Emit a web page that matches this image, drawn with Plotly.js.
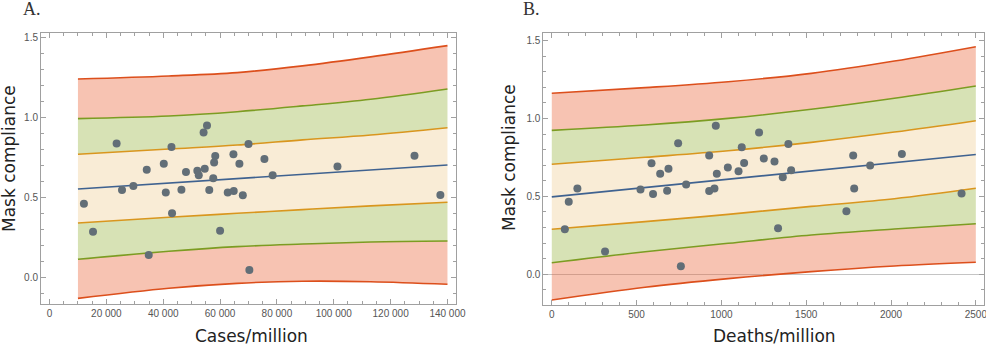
<!DOCTYPE html>
<html>
<head>
<meta charset="utf-8">
<script src="https://cdn.plot.ly/plotly-3.0.1.min.js"></script>
<style>html,body{margin:0;padding:0;background:#fff;}#chart{width:986px;height:348px;}</style>
</head>
<body>
<div id="chart"></div>
<script>
// ---------- Panel A: cases per million ----------
const casesX = [12100, 15300, 23600, 25500, 29500, 34200, 34900, 40200, 40900, 42900, 43100, 46400, 48000, 52000, 52500, 54200, 54600, 55400, 56200, 57600, 57900, 58300, 60000, 62700, 64700, 64800, 66800, 68000, 70000, 70300, 75600, 78500, 101300, 128400, 137500];
const casesY = [0.462, 0.287, 0.838, 0.547, 0.572, 0.674, 0.141, 0.711, 0.532, 0.815, 0.403, 0.549, 0.659, 0.667, 0.640, 0.906, 0.680, 0.950, 0.547, 0.620, 0.719, 0.759, 0.293, 0.532, 0.771, 0.541, 0.711, 0.514, 0.834, 0.048, 0.740, 0.640, 0.694, 0.761, 0.516];

const bandAX = [10000, 42000, 66000, 89000, 113000, 140000];
const aFitX = [10000, 140000];
const aFit = [0.554, 0.703];
const aUpRed = [1.240, 1.259, 1.280, 1.322, 1.378, 1.448];
const aUpGreen = [0.993, 1.009, 1.036, 1.072, 1.114, 1.178];
const aUpOrange = [0.770, 0.803, 0.828, 0.860, 0.891, 0.936];
const aLoOrange = [0.341, 0.377, 0.402, 0.425, 0.448, 0.471];
const aLoGreen = [0.115, 0.165, 0.194, 0.210, 0.223, 0.229];
const aLoRed = [-0.129, -0.066, -0.035, -0.022, -0.025, -0.041];

// ---------- Panel B: deaths per million ----------
const deathsX = [77, 100, 151, 314, 523, 588, 597, 639, 680, 688, 745, 761, 792, 928, 928, 959, 967, 973, 1038, 1101, 1120, 1134, 1222, 1250, 1313, 1334, 1362, 1395, 1411, 1737, 1777, 1783, 1877, 2064, 2416];
const deathsY = [0.289, 0.465, 0.550, 0.146, 0.544, 0.713, 0.516, 0.645, 0.537, 0.677, 0.842, 0.051, 0.576, 0.762, 0.535, 0.550, 0.953, 0.645, 0.685, 0.662, 0.816, 0.715, 0.910, 0.743, 0.724, 0.296, 0.623, 0.837, 0.668, 0.405, 0.762, 0.550, 0.698, 0.773, 0.518];

const bandBX = [0, 550, 1040, 1530, 2020, 2500];
const bFitX = [0, 2500];
const bFit = [0.497, 0.769];
const bUpRed = [1.162, 1.198, 1.236, 1.290, 1.369, 1.461];
const bUpGreen = [0.924, 0.958, 1.001, 1.059, 1.130, 1.209];
const bUpOrange = [0.706, 0.751, 0.793, 0.847, 0.913, 0.986];
const bLoOrange = [0.289, 0.338, 0.385, 0.436, 0.485, 0.552];
const bLoGreen = [0.074, 0.145, 0.199, 0.252, 0.291, 0.325];
const bLoRed = [-0.165, -0.083, -0.028, 0.017, 0.053, 0.077];

const RED = '#dc4f1c', GREEN = '#7c9c22', ORANGE = '#d9961e', BLUE = '#3f6290', DOT = '#626e77';
const RED_F = 'rgba(235,98,53,0.38)', GREEN_F = 'rgba(143,176,50,0.36)', ORANGE_F = 'rgba(225,156,36,0.19)';

function bandTraces(xs, lr, lg, lo, uo, ug, ur, fx, fy, px, py, xa, ya) {
  const L = (c) => ({color: c, width: 1.6, shape: 'spline', smoothing: 1});
  const base = {x: xs, mode: 'lines', xaxis: xa, yaxis: ya, hoverinfo: 'skip', showlegend: false};
  return [
    Object.assign({}, base, {y: lr, line: L(RED)}),
    Object.assign({}, base, {y: lg, line: L(GREEN), fill: 'tonexty', fillcolor: RED_F}),
    Object.assign({}, base, {y: lo, line: L(ORANGE), fill: 'tonexty', fillcolor: GREEN_F}),
    Object.assign({}, base, {y: uo, line: L(ORANGE), fill: 'tonexty', fillcolor: ORANGE_F}),
    Object.assign({}, base, {y: ug, line: L(GREEN), fill: 'tonexty', fillcolor: GREEN_F}),
    Object.assign({}, base, {y: ur, line: L(RED), fill: 'tonexty', fillcolor: RED_F}),
    {x: fx, y: fy, mode: 'lines', line: {color: BLUE, width: 1.6}, xaxis: xa, yaxis: ya, showlegend: false},
    {x: px, y: py, mode: 'markers', marker: {color: DOT, size: 8}, xaxis: xa, yaxis: ya, showlegend: false}
  ];
}

const data = [].concat(
  bandTraces(bandAX, aLoRed, aLoGreen, aLoOrange, aUpOrange, aUpGreen, aUpRed, aFitX, aFit, casesX, casesY, 'x', 'y'),
  bandTraces(bandBX, bLoRed, bLoGreen, bLoOrange, bUpOrange, bUpGreen, bUpRed, bFitX, bFit, deathsX, deathsY, 'x2', 'y2')
);

const tickFont = {family: 'Liberation Sans, Arial, sans-serif', size: 10, color: '#555'};
function axis(extra) {
  return Object.assign({
    showgrid: false, zeroline: false, showline: true, linecolor: '#a0a0a0', linewidth: 1,
    mirror: 'allticks', ticks: 'inside', ticklen: 5, tickcolor: '#a0a0a0', tickwidth: 1,
    tickfont: tickFont, fixedrange: true, ticklabeloverflow: 'allow'
  }, extra);
}

const layout = {
  width: 986, height: 348,
  margin: {l: 0, r: 0, t: 0, b: 0},
  paper_bgcolor: '#fff', plot_bgcolor: '#fff',
  separators: '. ',
  showlegend: false,
  xaxis: axis({domain: [41/986, 456/986], range: [-3000, 143000], dtick: 20000, tick0: 0, tickformat: ',d',
    minor: {ticks: 'inside', ticklen: 3, dtick: 5000, tickcolor: '#a0a0a0'}, anchor: 'y'}),
  yaxis: axis({domain: [1 - 304/348, 1 - 33/348], range: [-0.164, 1.527], dtick: 0.5, tick0: 0, tickformat: '.1f',
    minor: {ticks: 'inside', ticklen: 3, dtick: 0.1, tickcolor: '#a0a0a0'}, anchor: 'x'}),
  xaxis2: axis({domain: [543.3/986, 984.3/986], range: [-50, 2550], dtick: 500, tick0: 0, tickformat: 'd',
    minor: {ticks: 'inside', ticklen: 3, dtick: 100, tickcolor: '#a0a0a0'}, anchor: 'y2'}),
  yaxis2: axis({domain: [1 - 305/348, 1 - 33.3/348], range: [-0.197, 1.547], dtick: 0.5, tick0: 0, tickformat: '.1f',
    minor: {ticks: 'inside', ticklen: 3, dtick: 0.1, tickcolor: '#a0a0a0'}, anchor: 'x2',
    zeroline: true, zerolinecolor: '#c4c4c4', zerolinewidth: 1}),
  annotations: [
    {text: 'A.', xref: 'paper', yref: 'paper', x: 21/986, y: 1 - 9/348, xanchor: 'left', yanchor: 'middle', showarrow: false,
      font: {family: 'Liberation Serif, DejaVu Serif, serif', size: 18, color: '#333'}},
    {text: 'B.', xref: 'paper', yref: 'paper', x: 521/986, y: 1 - 9/348, xanchor: 'left', yanchor: 'middle', showarrow: false,
      font: {family: 'Liberation Serif, DejaVu Serif, serif', size: 18, color: '#333'}},
    {text: 'Mask compliance', xref: 'paper', yref: 'paper', x: 9/986, y: 1 - 159/348, textangle: -90, xanchor: 'center', yanchor: 'middle', showarrow: false,
      font: {family: 'DejaVu Sans, sans-serif', size: 17, color: '#222'}},
    {text: 'Mask compliance', xref: 'paper', yref: 'paper', x: 509/986, y: 1 - 158/348, textangle: -90, xanchor: 'center', yanchor: 'middle', showarrow: false,
      font: {family: 'DejaVu Sans, sans-serif', size: 17, color: '#222'}},
    {text: 'Cases/million', xref: 'paper', yref: 'paper', x: 251/986, y: 1 - 336/348, xanchor: 'center', yanchor: 'middle', showarrow: false,
      font: {family: 'DejaVu Sans, sans-serif', size: 17, color: '#222'}},
    {text: 'Deaths/million', xref: 'paper', yref: 'paper', x: 774/986, y: 1 - 336/348, xanchor: 'center', yanchor: 'middle', showarrow: false,
      font: {family: 'DejaVu Sans, sans-serif', size: 17, color: '#222'}}
  ]
};

Plotly.newPlot('chart', data, layout, {staticPlot: true, displayModeBar: false});
</script>
</body>
</html>
